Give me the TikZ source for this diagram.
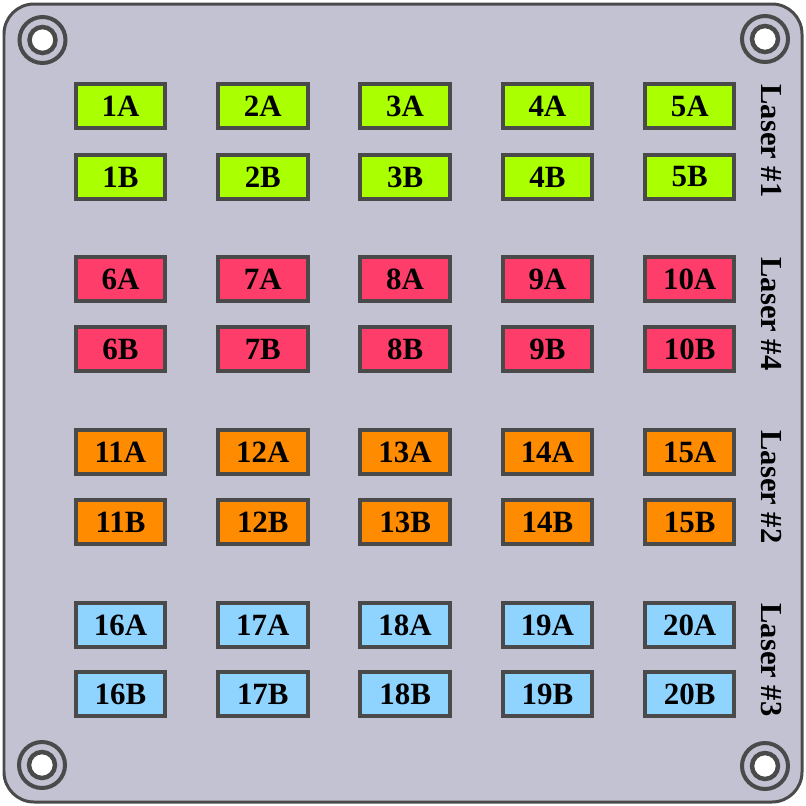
\documentclass[tikz,border=0pt]{standalone}
\usepackage{fontspec}
\setmainfont{Liberation Serif}
\usepackage{tikz}
\usetikzlibrary{positioning}
\definecolor{Plate}{HTML}{C3C2D3}
\definecolor{Rim}{HTML}{4A4A4A}
\definecolor{LimeF}{HTML}{AAFF00}
\definecolor{RoseF}{HTML}{FF3D6A}
\definecolor{AmberF}{HTML}{FF8C00}
\definecolor{SkyF}{HTML}{8FD3FF}
\tikzset{
  plate/.style={draw=Rim,fill=Plate,line width=.06cm,rounded corners=.6cm},
  fib/.style={rectangle,draw=Rim,line width=.08cm,minimum width=1.79cm,minimum height=.88cm,inner sep=0pt,font=\fontsize{17.6}{19}\selectfont\bfseries},
  lime/.style={fib,fill=LimeF},
  rose/.style={fib,fill=RoseF},
  amber/.style={fib,fill=AmberF},
  sky/.style={fib,fill=SkyF},
  screwout/.style={draw=Rim,line width=.08cm},
  screwin/.style={draw=Rim,fill=white,line width=.09cm},
  laser/.style={rotate=-90,font=\fontsize{17.4}{19}\selectfont\bfseries,inner sep=0pt}
}
\begin{document}
\begin{tikzpicture}[x=.02cm,y=-.02cm]
    \useasboundingbox (0,0) rectangle (806,806);
    \draw[plate] (4,4) rectangle (802,802);
    % screws
    \draw[screwout] (42.5,40) circle (23); \draw[screwin] (42.5,40) circle (13);
    \draw[screwout] (765,39) circle (23); \draw[screwin] (765,39) circle (13);
    \draw[screwout] (42,765) circle (23); \draw[screwin] (42,765) circle (13);
    \draw[screwout] (765,766) circle (23); \draw[screwin] (765,766) circle (13);
    % laser 1
    \node[lime] (f1a) at (120.5,106) {1A}; \node[lime] (f2a) at (262.8,106) {2A};
    \node[lime] (f3a) at (405.1,106) {3A}; \node[lime] (f4a) at (547.4,106) {4A};
    \node[lime] (f5a) at (689.7,106) {5A};
    \node[lime] (f1b) at (120.5,177) {1B}; \node[lime] (f2b) at (262.8,177) {2B};
    \node[lime] (f3b) at (405.1,177) {3B}; \node[lime] (f4b) at (547.4,177) {4B};
    \node[lime] (f5b) at (689.7,177) {5B};
    % laser 4
    \node[rose] (f6a) at (120.5,279) {6A}; \node[rose] (f7a) at (262.8,279) {7A};
    \node[rose] (f8a) at (405.1,279) {8A}; \node[rose] (f9a) at (547.4,279) {9A};
    \node[rose] (f10a) at (689.7,279) {10A};
    \node[rose] (f6b) at (120.5,349) {6B}; \node[rose] (f7b) at (262.8,349) {7B};
    \node[rose] (f8b) at (405.1,349) {8B}; \node[rose] (f9b) at (547.4,349) {9B};
    \node[rose] (f10b) at (689.7,349) {10B};
    % laser 2
    \node[amber] (f11a) at (120.5,452) {11A}; \node[amber] (f12a) at (262.8,452) {12A};
    \node[amber] (f13a) at (405.1,452) {13A}; \node[amber] (f14a) at (547.4,452) {14A};
    \node[amber] (f15a) at (689.7,452) {15A};
    \node[amber] (f11b) at (120.5,522) {11B}; \node[amber] (f12b) at (262.8,522) {12B};
    \node[amber] (f13b) at (405.1,522) {13B}; \node[amber] (f14b) at (547.4,522) {14B};
    \node[amber] (f15b) at (689.7,522) {15B};
    % laser 3
    \node[sky] (f16a) at (120.5,625) {16A}; \node[sky] (f17a) at (262.8,625) {17A};
    \node[sky] (f18a) at (405.1,625) {18A}; \node[sky] (f19a) at (547.4,625) {19A};
    \node[sky] (f20a) at (689.7,625) {20A};
    \node[sky] (f16b) at (120.5,694) {16B}; \node[sky] (f17b) at (262.8,694) {17B};
    \node[sky] (f18b) at (405.1,694) {18B}; \node[sky] (f19b) at (547.4,694) {19B};
    \node[sky] (f20b) at (689.7,694) {20B};
    \node[laser] (l1) at (771,141) {Laser \#1};
    \node[laser] (l4) at (771,314) {Laser \#4};
    \node[laser] (l2) at (771,487) {Laser \#2};
    \node[laser] (l3) at (771,660) {Laser \#3};
  \end{tikzpicture}
\end{document}
